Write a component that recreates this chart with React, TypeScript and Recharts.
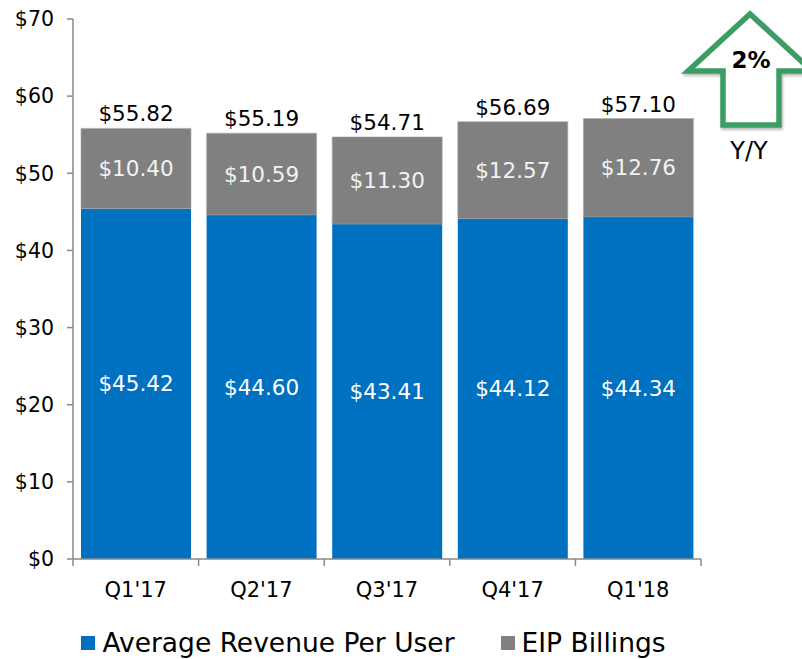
import React from 'react'
import {
  BarChart, Bar, XAxis, YAxis, LabelList, Legend
} from 'recharts'

const quarters = ["Q1'17", "Q2'17", "Q3'17", "Q4'17", "Q1'18"]
const arpu = [45.42, 44.60, 43.41, 44.12, 44.34]
const eipBillings = [10.40, 10.59, 11.30, 12.57, 12.76]
const totals = [55.82, 55.19, 54.71, 56.69, 57.10]
const yTicks = [0, 10, 20, 30, 40, 50, 60, 70]
const boundaryTicks = [0, 1, 2, 3, 4, 5]

const BLUE = '#0070C0'
const GRAY = '#808080'
const AXIS = '#898989'
const FONT = '"DejaVu Sans", Verdana, sans-serif'

const data = quarters.map((q, i) => ({
  quarter: q,
  edge: i + 0.5,
  arpu: arpu[i],
  eip: eipBillings[i],
  total: totals[i],
}))

const money = (v: any) => `$${Number(v).toFixed(2)}`

const legendItems = [
  { label: 'Average Revenue Per User', color: BLUE },
  { label: 'EIP Billings', color: GRAY },
]

const renderLegend = () => (
  <div style={{ height: 55, display: 'flex', justifyContent: 'center', alignItems: 'flex-end', gap: 46, fontFamily: FONT, fontSize: 26.5, color: '#000', paddingLeft: 46 }}>
    {legendItems.map(it => (
      <div key={it.label} style={{ display: 'flex', alignItems: 'center', lineHeight: '30px', marginBottom: 1 }}>
        <span style={{ width: 14, height: 14, background: it.color, display: 'inline-block', marginRight: 7 }} />
        <span>{it.label}</span>
      </div>
    ))}
  </div>
)

export default function App() {
  return (
    <div style={{ position: 'absolute', left: 0, top: 0, width: 802, height: 659, background: '#fff' }}>
      <BarChart
        width={802}
        height={659}
        data={data}
        margin={{ top: 19, right: 101, bottom: 0, left: 0 }}
        style={{ fontFamily: FONT }}
      >
        <XAxis
          xAxisId="axis0"
          dataKey="edge"
          type="number"
          domain={[0, 5]}
          ticks={boundaryTicks}
          allowDataOverflow
          height={8}
          tick={{ fontSize: 1, fill: 'none' }}
          tickFormatter={() => ''}
          axisLine={{ stroke: AXIS, strokeWidth: 1.5 }}
          tickLine={{ stroke: AXIS, strokeWidth: 1.5 }}
          tickSize={7}
        />
        <XAxis
          xAxisId="axis1"
          dataKey="quarter"
          height={37}
          axisLine={false}
          tickLine={false}
          tickMargin={9}
          tick={{ fill: '#000', fontSize: 21 }}
        />
        <YAxis
          domain={[0, 70]}
          ticks={yTicks}
          width={73}
          tickFormatter={(v: number) => `$${v}`}
          tick={{ fill: '#000', fontSize: 20.5 }}
          axisLine={{ stroke: AXIS, strokeWidth: 1.5 }}
          tickLine={{ stroke: AXIS, strokeWidth: 1.5 }}
          tickSize={6}
          tickMargin={13}
        />
        <Legend verticalAlign="bottom" content={renderLegend} />
        <Bar dataKey="arpu" stackId="a" xAxisId="axis1" fill={BLUE} barSize={110} isAnimationActive={false}>
          <LabelList dataKey="arpu" position="center" formatter={money} fill="#fff" fontSize={21.5} />
        </Bar>
        <Bar dataKey="eip" stackId="a" xAxisId="axis1" fill={GRAY} stroke="#a6a6a6" strokeWidth={0.6} barSize={110} isAnimationActive={false}>
          <LabelList dataKey="eip" position="center" formatter={money} fill="#f2f2f2" stroke="none" fontSize={21.5} />
          <LabelList dataKey="total" position="top" offset={7} formatter={money} fill="#000" stroke="none" fontSize={21.5} />
        </Bar>
      </BarChart>
      <svg width={802} height={170} style={{ position: 'absolute', left: 0, top: 0, overflow: 'visible', pointerEvents: 'none' }}>
        <defs>
          <filter id="shadow" x="-20%" y="-20%" width="140%" height="140%">
            <feDropShadow dx="1" dy="2" stdDeviation="1.5" floodColor="#000" floodOpacity="0.3" />
          </filter>
        </defs>
        <polygon
          points="750,14 812,71 779,71 779,125 723,125 723,71 688,71"
          fill="#fff"
          stroke="#3A9D64"
          strokeWidth={5.5}
          strokeLinejoin="miter"
          filter="url(#shadow)"
        />
        <text x={751} y={68} textAnchor="middle" fontFamily={FONT} fontSize={23} fontWeight="bold" fill="#000">2%</text>
        <text x={749} y={159} textAnchor="middle" fontFamily={FONT} fontSize={24} fill="#000">Y/Y</text>
      </svg>
    </div>
  )
}
